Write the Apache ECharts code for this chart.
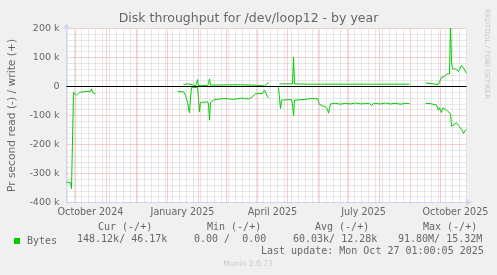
<!DOCTYPE html>
<html><head><meta charset="utf-8">
<script src="https://cdn.jsdelivr.net/npm/echarts@6/dist/echarts.min.js"></script>
<style>html,body{margin:0;padding:0;background:#F0F0F0}#c{width:497px;height:275px}</style>
</head><body><div id="c"></div>
<script>
// ---- data (values in k = 1000 bytes/s) ----
const readDates = [
 '2024-09-22','2024-09-26','2024-09-27','2024-09-28','2024-09-29','2024-09-30','2024-10-02','2024-10-03','2024-10-04','2024-10-05','2024-10-07','2024-10-12','2024-10-16','2024-10-17','2024-10-18','2024-10-19','2024-10-21','2024-10-22',
 '2025-01-11','2025-01-17','2025-01-18','2025-01-19','2025-01-21','2025-01-23','2025-01-24','2025-01-25','2025-01-31','2025-02-01','2025-02-02','2025-02-03','2025-02-10','2025-02-11','2025-02-12','2025-02-13','2025-02-14','2025-02-16','2025-02-19','2025-02-26','2025-03-03','2025-03-06','2025-03-11','2025-03-16','2025-03-17','2025-03-23','2025-03-25','2025-03-26','2025-03-28','2025-03-30','2025-04-06','2025-04-07','2025-04-08','2025-04-09','2025-04-11','2025-04-12','2025-04-13',
 '2025-04-22','2025-04-23','2025-04-24','2025-04-25','2025-05-05','2025-05-06','2025-05-07','2025-05-08','2025-05-19','2025-05-24','2025-05-31','2025-06-01','2025-06-02','2025-06-05','2025-06-08','2025-06-10','2025-06-11','2025-06-12','2025-06-13','2025-06-18','2025-06-23','2025-06-28','2025-07-03','2025-07-08','2025-07-13','2025-07-18','2025-07-22','2025-07-24','2025-07-26','2025-08-02','2025-08-07','2025-08-12','2025-08-17','2025-08-22','2025-08-27','2025-08-31','2025-09-01',
 '2025-09-16','2025-09-21','2025-09-23','2025-09-27','2025-09-28','2025-09-29','2025-09-30','2025-10-01','2025-10-02','2025-10-03','2025-10-04','2025-10-06','2025-10-08','2025-10-10','2025-10-11','2025-10-12','2025-10-14','2025-10-17','2025-10-19','2025-10-21','2025-10-23','2025-10-24','2025-10-26','2025-10-27'
];
const readValues = [
 -330,-332,-352,-352,-20,-24,-30,-35,-27,-20,-16,-17,-17,-8,-20,-26,-26,null,
 -18,-18,-22,-30,-55,-91,-40,-3,-3,-40,-87,-55,-53,-60,-116,-55,-50,-47,-44,-42,-42,-44,-43,-40,-45,-43,-42,-38,-36,-25,-24,-20,-12,-14,-35,-40,null,
 -3,-40,-76,-47,-45,-60,-100,-47,-44,-42,-42,-46,-62,-66,-70,-78,-92,-75,-60,-58,-61,-58,-60,-57,-60,-59,-58,-66,-58,-60,-57,-60,-58,-61,-58,-59,null,
 -58,-59,-65,-64,-68,-82,-73,-75,-90,-75,-72,-78,-85,-90,-93,-137,-132,-125,-135,-141,-152,-162,-150,-148
];
const writeDates = [
 '2025-01-17','2025-01-22','2025-01-23','2025-01-24','2025-01-29','2025-01-30','2025-01-31','2025-02-01','2025-02-10','2025-02-11','2025-02-12','2025-02-13','2025-03-15','2025-03-16','2025-03-17','2025-03-27','2025-03-29','2025-04-08','2025-04-10','2025-04-12','2025-04-13',
 '2025-04-23','2025-05-06','2025-05-07','2025-05-08','2025-05-19','2025-05-20','2025-05-21','2025-06-03','2025-06-04','2025-06-05','2025-08-31','2025-09-01',
 '2025-09-16','2025-09-17','2025-09-29','2025-09-30','2025-10-01','2025-10-02','2025-10-03','2025-10-04','2025-10-05','2025-10-07','2025-10-08','2025-10-09','2025-10-10','2025-10-11','2025-10-12','2025-10-13','2025-10-14','2025-10-16','2025-10-17','2025-10-19','2025-10-20','2025-10-22','2025-10-23','2025-10-24','2025-10-25','2025-10-26','2025-10-27'
];
const writeValues = [
 7,9,5,3,3,10,24,3,3,10,26,5,6,10,6,5,2,2,8,14,null,
 9,9,102,9,8,12,8,8,12,8,8,null,
 12,7,7,15,21,32,36,38,34,43,41,44,44,215,84,62,56,60,62,52,55,73,70,64,67,62,45
];
const xLabelDates = ['2024-10-16','2025-01-16','2025-04-16','2025-07-16','2025-10-16'];
const xLabelTexts = ['October 2024','January 2025','April 2025','July 2025','October 2025'];
const legendHeaders = ['Cur (-/+)','Min (-/+)','Avg (-/+)','Max (-/+)'];
const legendValues = ['148.12k/ 46.17k','0.00 /  0.00','60.03k/ 12.28k','91.80M/ 15.32M'];
const lastUpdate = 'Last update: Mon Oct 27 01:00:05 2025';
const rangeStart = '2024-09-22', rangeEnd = '2025-10-27';

// ---- helpers ----
function t(s){const p=s.split('-').map(Number);return new Date(p[0],p[1]-1,p[2]).getTime();}
const xMin=t(rangeStart), xMax=t(rangeEnd);
const readData = readDates.map((d,i)=>[t(d), readValues[i]==null?null:readValues[i]*1000]);
const writeData = writeDates.map((d,i)=>[t(d), writeValues[i]==null?null:writeValues[i]*1000]);
const labelTimes = xLabelDates.map(t);

const gridLines=[];
for(let d=new Date(xMin); d.getTime()<=xMax; d.setDate(d.getDate()+1)){
  if(d.getDate()===1) gridLines.push({xAxis:d.getTime(),lineStyle:{color:'rgba(235,110,110,0.65)'}});
  else if(d.getDay()===1) gridLines.push({xAxis:d.getTime(),lineStyle:{color:'rgba(150,150,150,0.45)'}});
}

const FONT='"DejaVu Sans", sans-serif', MONO='"DejaVu Sans Mono", monospace', FC='#666666', GREEN='#00CC00';
const chart=echarts.init(document.getElementById('c'),null,{renderer:'canvas'});
const graphics=[];
const hx=[98,207,315,423], vx=[77,194,293,398];
legendHeaders.forEach((h,i)=>graphics.push({type:'text',left:hx[i],top:222.5,style:{text:h,font:'10px '+MONO,fill:FC}}));
legendValues.forEach((h,i)=>graphics.push({type:'text',left:vx[i],top:234,style:{text:h,font:'10px '+MONO,fill:FC}}));
graphics.push({type:'text',left:261,top:246.5,style:{text:lastUpdate,font:'10px '+MONO,fill:FC}});
graphics.push({type:'text',x:248,y:264.5,style:{text:'Munin 2.0.73',font:'7.6px '+FONT,fill:'#C8C8C8',align:'center',verticalAlign:'middle'}});
graphics.push({type:'text',x:487,y:54,rotation:-Math.PI/2,style:{text:'RRDTOOL / TOBI OETIKER',font:'7px '+FONT,fill:'#C8C8C8',align:'center',verticalAlign:'middle'}});

chart.setOption({
  animation:false,
  backgroundColor:'#F0F0F0',
  title:{text:'Disk throughput for /dev/loop12 - by year',left:'center',top:12,padding:0,
    textStyle:{fontFamily:FONT,fontSize:12.5,fontWeight:'normal',color:FC}},
  legend:{data:['Bytes'],left:14,top:236,padding:0,icon:'rect',itemWidth:6,itemHeight:6,selectedMode:false,
    textStyle:{fontFamily:MONO,fontSize:10,color:FC,padding:[0,0,0,2]}},
  grid:{left:66.5,top:28.5,width:400,height:174,show:true,backgroundColor:'#FFFFFF',borderWidth:0,outerBoundsMode:'none'},
  xAxis:{type:'value',min:xMin,max:xMax,scale:true,
    axisLine:{show:true,onZero:false,lineStyle:{color:'#CFD6F8'},symbol:['none','arrow'],symbolSize:[6,6],symbolOffset:[0,5]},
    axisTick:{show:false},splitLine:{show:false},
    axisLabel:{customValues:labelTimes,formatter:(v)=>{const k=labelTimes.indexOf(v);return k>=0?xLabelTexts[k]:'';},
      color:FC,fontFamily:FONT,fontSize:9.6,margin:5}},
  yAxis:{type:'value',min:-400000,max:200000,interval:100000,
    axisLine:{show:true,onZero:false,lineStyle:{color:'#CFD6F8'},symbol:['none','arrow'],symbolSize:[6,6],symbolOffset:[0,5]},
    axisTick:{show:false},
    axisLabel:{formatter:v=>v===0?'0':(v/1000)+' k',color:FC,fontFamily:FONT,fontSize:9.5,margin:7},
    splitLine:{show:true,lineStyle:{color:'rgba(235,110,110,0.65)',type:[1,1]}},
    minorTick:{show:false,splitNumber:5},
    minorSplitLine:{show:true,lineStyle:{color:'rgba(150,150,150,0.45)',type:[1,1]}},
    name:'Pr second read (-) / write (+)',nameLocation:'middle',nameGap:49,nameRotate:90,
    nameTextStyle:{fontFamily:FONT,fontSize:10.7,color:FC}},
  series:[
    {type:'line',name:'grid',data:[[xMin,null]],z:1,silent:true,
      markLine:{silent:true,symbol:['none','none'],label:{show:false},animation:false,
        lineStyle:{type:[1,1],width:1},data:gridLines}},
    {type:'line',name:'Bytes',data:readData,z:3,showSymbol:false,connectNulls:false,
      lineStyle:{color:GREEN,width:1},itemStyle:{color:GREEN}},
    {type:'line',name:'Bytes',data:writeData,z:3,showSymbol:false,connectNulls:false,
      lineStyle:{color:GREEN,width:1},itemStyle:{color:GREEN}},
    {type:'line',name:'zero',data:[[xMin,null]],z:5,silent:true,
      markLine:{silent:true,symbol:['none','none'],label:{show:false},animation:false,
        lineStyle:{type:'solid',width:1,color:'#000000'},data:[{yAxis:0}]}}
  ],
  graphic:graphics
});
</script></body></html>
